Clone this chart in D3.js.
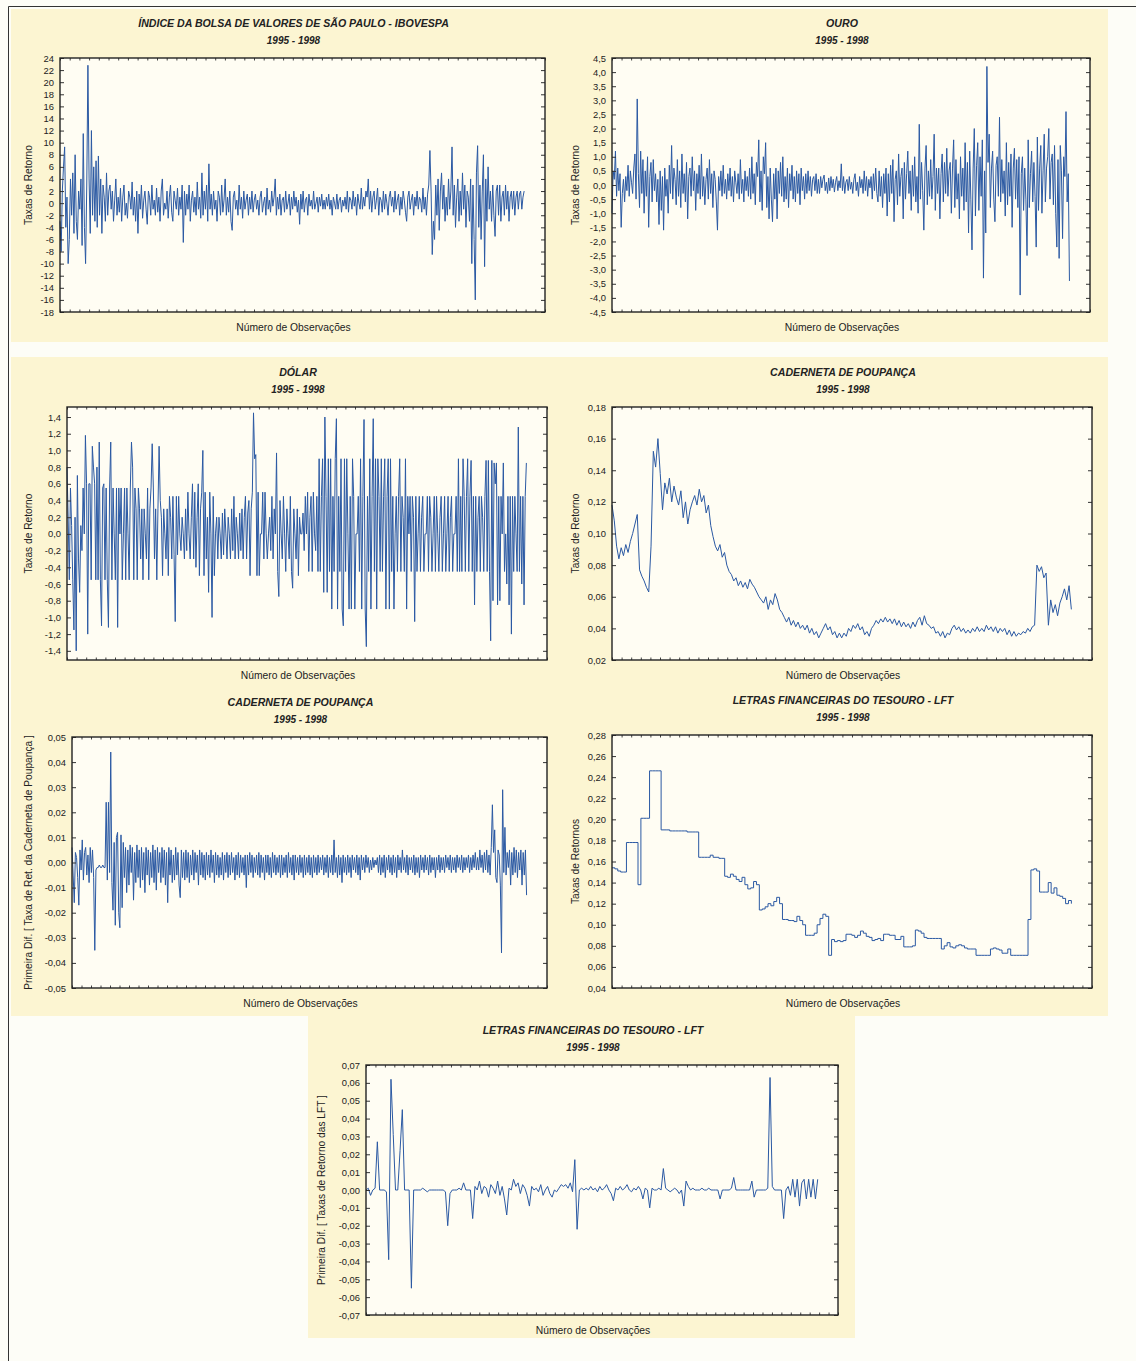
<!DOCTYPE html>
<html>
<head>
<meta charset="utf-8">
<script src="https://cdn.jsdelivr.net/npm/d3@7"></script>
<style>
  body { margin: 0; background: #fdfdf7; }
  svg text { font-family: "Liberation Sans", Arial, sans-serif; fill: #222; }
</style>
</head>
<body>
<div id="chart"></div>
<script>
// ---- values (one array per series) ----

// number of observations on the x axis (axis runs a bit past the data)
const NOBS = 957;
const XMAX = 1000;

// IBOVESPA returns (%)
const ibovespa = [
  -3, -8, 2, 6, 9.3, -4, 1, -10, -6, 4, -2, 5, -5, 8, -3, -6, 2, -1, 4, -7,
  11.5, -4, -10, 3, 22.8, 4, -5, 12, -2, 6, -3, 7, -4, 7.8, -2, 4, -5, 3, 1, -3,
  5, -2, 2,
  3, -1, 2, -3, 0.5, 4, -2, 1, -1.5, 2.5, -3, 1, 3, -2, 0, -2.5, 2, 1, -1, 3.5,
  -2, 1, -3, 2, -5, 1.5, -1, 3, -2.5, 0.5, 2, -1, -3.5, 2, 1, -2, 3, -1, 0.5, -2,
  2.5, -1.5, 1, -3, 2, 4, -2, 0, -1, 2, -2.5, 1, 3, -1.5, -3, 2, 0.5, -1, 2.5, -2,
  1, -1, 3, -6.5, 2, -2, 1.5, -1, 3, -3, 0.5, 2, -1.5, 1, -2, 3.5, -1, 1, -2.5, 5,
  -2, 2, -1, 3, -3, 6.5, -1, 1.5, -2, 2, -1, 0.5, -3, 2, 1, -2, 3, -1.5, 0.5, 4,
  -2, 1, -1.5, 2, -3, -4.5, 1, 2, -1, 0.5, -2, 3, -1, 1, -2.5, 2, -1, 0.5, 1.5, -2,
  1, -1, 2, -1.5, 0.5,
  1.5, -1, 0.5, -2, 1, 2, -1.5, 0, 1, -2, 2.5, -1, 0.5, -1.5, 2, -0.5, 1, 4, -2, 1,
  -1, 1.5, -2, 0.5, 1, -1.5, 2, -1, 0, 1.5, -2, 1, -1, 2, -0.5, 1, -1.5, 0.5, -3.5, 1.5,
  -1, 2, -1.5, 0.5, 1, -2, 1.5, -0.5, 0.5, -1, 2, -1, 0, 1, -1.5, 1, -0.5, 1.5, -1, 0.5,
  -1, 1, -0.5, 1.5, -1, 0.5, -2, 1, 0, -1, 1.5, -1, 0.5, 1, -1.5, 0.5, -0.5, 1, -1, 2,
  -1.5, 1, 0.5, -1, 2, -0.5, 1, -2, 1.5, 0, -1, 2.5, -1, 1, -0.5, 2, 1, 4, -1, 2,
  -1.5, 1, 2, -1, 0.5, 2.5, -2, 1, 0.5, -1.5, 2, -1, 1.5, 0, -2, 1, 2, -0.5, 1, -1.5,
  2, -1, 0.5, 1.5, -2, 1, -1, 2, 0.5, -1.5, -3, 1, 2, -1, 0.5, 1.5, -2, 1, -0.5, 2,
  -1, 1, 0.5, -1.5, 2.5, -1, 1, -2, 1.5, 3,
  8.7, 2, -8.5, -3, -6, 3, -2, 4, -4.5, 2, 5, -1, 3, -3, 1, -2, 4, -1, 2, 9.3,
  -2, 3, -4, 1, 4, -3, 2, -2, 5, -1, 3, -4, 2, 1, -3, 4, -10, 3, -6, -16,
  5, 9.5, -4, 3, -6, 2, 8, -10.5, 4, -3, 6, -1, 2, -3, 3, -2, -5.5, 2, 3, -2,
  3, -3, 1, 2, -2, 3, -1, 2, -3, 1, 2, -1, 2, -2, 1, 2, -1, 1.5, 2, -1, 1, 2
];

// gold returns (%)
const ouro = [
  -1.0, 0.5, 0.2, 1.2, -0.4, 0.6, -0.2, 0.4, -1.5, -0.3, 0.2, -0.6, 0.3, -0.2, 0.7, -0.4, 0.5, 0.1, -0.3, 0.6,
  1.1, -0.5, 3.05, 0.4, -0.8, 1.2, -0.3, 0.9, -1.0, 0.5, -0.4, 1.0, -1.5, 0.3, 0.8, -0.6, 0.9, -0.2, 0.4, -0.6,
  0.2, -1.4, 0.5, -0.9, 0.3, -1.6, 0.6, -0.4, 0.2, -1.0, 0.7, -0.3, 1.4, -0.5, 0.6, 0.2, -0.7, 0.9, -0.4, 0.5,
  -0.8, 1.1, -0.3, 0.4, -0.6, 0.8, -1.2, 0.3, 0.6, -0.4, 1.0, -0.2, 0.5, -0.9, 0.4, -0.3, 0.7, -0.5, 1.1, -0.4,
  0.3, -0.7, 0.2, 0.6, -0.5, 0.9, -0.3, 0.4, -0.8, 0.5, 0.2, -0.6, -1.6, 0.3, -0.2, 0.5, -0.4, 0.7, -0.3, 0.2,
  -0.5, 0.4, -0.2, 0.6, -0.4, 0.3, -0.6, 0.5, 0.1, -0.3, 0.4, -0.5, 0.9, -0.3, 0.2, -0.6, 0.5, -0.2, 0.3, -0.4,
  0.6, -0.5, 1.0, -0.3, 0.4, -0.7, 0.8, 0.3, 1.6, -0.6, 0.5, -0.9, 1.0, 0.4, 1.5, -0.8, 0.3, -1.2, 0.6, -0.5,
  -1.3, 0.4, -0.5, 0.6, -1.2, 0.5, -0.3, 0.8, -0.4, 1.0, -0.6, 0.3, -0.5, 0.6, -0.8, 0.4, -0.2, 0.7, -0.5, 0.3,
  -0.6, 0.5, -0.3, 0.4, -0.7, 0.6, -0.2, 0.3, -0.5, 0.4, -0.3, 0.5, -0.2, 0.3, -0.4, 0.2, 0.3, -0.2, 0.4, -0.3,
  0.2, -0.3, 0.3, -0.1, 0.2, 0.35, -0.2, 0.1, -0.3, 0.25, -0.2, 0.3, -0.1, 0.2, -0.25, 0.1, 0.3, -0.2, 0.15, -0.1,
  0.75, -0.2, 0.3, -0.3, 0.1, 0.2, -0.2, 0.3, -0.15, 0.1, -0.3, 0.2, 0.4, -0.2, 0.1, -0.4, 0.3, -0.1, 0.2, -0.3,
  0.5, -0.2, 0.3, -0.4, 0.2, -0.1, 0.3, -0.5, 0.4, -0.2, 0.6, -0.3, -0.6, 0.5, -0.4, 0.3, -0.8, 0.4, -0.3, 0.6,
  -1.1, 0.4, -0.6, 0.7, -0.3, 0.9, -1.3, 0.2, 0.5, -0.7, 1.1, -0.4, 0.3, 0.6, -1.2, 0.8, -0.5, 0.4, 1.2, -0.3,
  0.5, -0.9, 0.7, -0.4, 1.0, -0.6, 0.3, -1.0, 2.15, -0.5, 0.8, -0.2, -1.6, 0.6, 1.4, -0.7, 0.5, -0.4, 0.9, -0.5,
  0.3, 1.8, -0.9, 0.6, -0.3, 0.6, -1.2, 0.4, 1.1, -0.6, 0.8, -0.3, 1.3, -0.4, 0.5, 0.8, -1.0, 0.6, 1.6, -0.8,
  0.9, -0.5, 0.4, -1.2, 1.0, -0.4, 0.6, -0.9, 1.5, -0.6, 0.8, -1.7, 1.2, -0.5, -2.3, 0.6, 2.0, -1.1, 0.7, 1.5,
  -0.9, 1.0, -0.4, 1.6, -3.3, 0.5, -1.7, 4.2, 0.8, 1.8, -0.8, 0.6, 1.2, -0.5, -1.3, 0.7, 1.0, -0.4, 2.4, -0.6,
  0.9, -0.3, 0.5, -1.1, 1.5, -0.7, 0.8, -0.4, 1.1, -1.5, 0.6, 1.3, -0.5, 0.9, -0.8, 1.0, -3.9, 0.4, 1.0, -0.9,
  0.6, -0.5, -2.5, 1.6, -0.8, 0.4, 1.2, -0.6, 0.8, -0.4, -2.2, 1.7, -0.9, 0.6, 1.4, -1.0, 0.5, 1.8, -0.6, 0.6,
  1.0, 2.0, -0.5, 0.8, 1.1, -0.7, 1.4, -1.0, -2.2, 0.9, -2.6, 1.4, 0.5, -1.9, 1.0, 0.3, 2.6, -0.6, 0.4, -3.4
];

// dollar returns (%)
const dolar = [
  0.8, 0.2, -0.55, 0.55, 0.1, -0.55, -1.15, 0.2, -1.4, 0.7, -0.3, -0.7, 0.1, -0.2, 0.55, 0, 1.18, 0.6, -1.2, 0.6,
  0.6, -0.55, 1.05, 0.8, 0.6, -0.55, 0.8, -0.55, 1.1, -0.55, -1.1, 0.55, 0.6, -0.55, 0.55, -0.55, -1.12, 0.55, 1.1, -0.55,
  0.55, 0, -0.55, 0.55, -1.12, 0.55, 0, 0.55, -0.55, 0, 0.55, -0.55, 0.55, 0, -0.55, 0.55, 1.1, 0.8, -0.55, 0.55,
  0.3, -0.55, 0.55, 0.3, -0.3, 0.3, -0.55, 0.3, 0, -0.3, 0.55, -0.55, 0.3, 0.55, 1.08, 0.55, -0.3, 0.3, -0.55, 0.3,
  1.05, 0.4, 0.2, -0.5, 0.3, 0, -0.3, 0.3, -0.5, 0.45, 0.2, -0.3, 0.45, -0.25, -1.05, 0.45, -0.25, 0.45, 0, -0.2,
  0.2, 0, -0.3, 0.3, -0.2, 0.5, 0, -0.3, 0.2, 0.6, -0.3, 0.5, -0.4, 0.2, 0.6, -0.5, 0.3, 0.5, 1.0, -0.5,
  0.5, -0.3, 0.2, -0.7, 0.5, 0, -1.0, 0.45, -0.5, 0, 0.2, -0.3, 0.2, 0, -0.3, 0.25, -0.25, 0.3, 0, -0.3,
  0.2, 0, -0.3, 0.3, -0.2, 0.45, -0.3, 0.2, 0, -0.3, 0.25, -0.2, 0.3, -0.3, 0.2, 0.45, -0.3, 0.25, 0.4, -0.5,
  0.3, 0.5, 1.45, 0.9, 0.95, -0.5, 0.5, -0.5, 0, 0, 0.5, -0.3, 0.5, 0, -0.3, 0, 0.2, -0.2, 0.45, -0.3,
  0.3, 0, 0.97, -0.45, -0.75, 0.4, 0, -0.3, 0.45, 0, -0.45, 0.3, 0, -0.3, 0.45, -0.45, -0.65, 0.3, 0, -0.3,
  0.3, -0.5, 0.2, 0, 0, 0.25, -0.2, 0.45, 0, 0.5, -0.45, 0.2, 0.45, -0.45, 0.5, 0, -0.2, 0.45, -0.45, 0.9,
  -0.45, 0.45, 0.9, -0.7, 1.4, 0.45, -0.7, 0.9, -0.45, 0.9, -0.9, 0.45, -0.45, 0.9, 1.38, -0.9, 0.45, -0.45, 0.9, -0.9,
  -1.1, 0.9, -0.45, 0.9, 0, -0.9, 0.45, -0.9, 0.9, 0.45, -0.9, 0, 0, 0.45, -0.45, 0.9, -0.9, 0.45, 1.37, -0.9,
  -1.35, 0.45, -0.45, 0.9, -0.9, 0.45, 1.38, -0.45, 0.9, -0.9, 0.9, 0.45, -0.45, 0.9, -0.45, 0.45, 0.9, -0.9, 0.45, 0.9,
  -0.9, 0.9, -0.45, 0.45, -0.9, 0, 0.45, -0.45, 0.45, 0.9, -0.45, 0.45, 0.2, -0.45, 0.9, -0.9, 0.45, 0, 0.45, -0.45,
  0.45, 0.2, -1.05, 0.45, -0.45, 0, 0.45, -0.45, 0.2, 0.45, -0.45, 0, 0, 0.45, -0.45, 0.45, 0.2, -0.45, 0, 0.45,
  -0.45, 0.45, 0, -0.45, 0.2, 0.45, -0.45, 0, 0.45, -0.45, 0, 0.45, -0.45, 0.2, 0.45, -0.45, 0, 0, 0.45, -0.45,
  0.9, -0.45, 0.45, -0.45, 0.9, 0.45, -0.45, 0.45, 0.9, -0.45, 0.45, 0.88, -0.45, 0.45, -0.85, 0.45, -0.45, 0.2, 0.45, -0.45,
  0.45, 0.2, -0.45, 0.45, 0.88, -0.45, 0.88, -0.45, -1.28, 0.88, -0.8, 0.85, 0.6, 0.85, -0.85, 0.45, -0.8, 0.45, 0, 0.85,
  -0.45, 0, -0.6, 0.45, -0.85, 0.45, -1.2, 0.45, -0.45, 0.45, 0, -0.45, 1.28, -0.45, 0.45, -0.6, 0.45, -0.85, 0.45, 0.85
];

// savings account (caderneta de poupança) returns
const poupanca = [
  0.118, 0.108, 0.092, 0.084, 0.091, 0.086, 0.093, 0.088, 0.095, 0.1, 0.106, 0.112, 0.077, 0.073, 0.07, 0.066, 0.063, 0.092,
  0.152, 0.142, 0.16, 0.138, 0.115, 0.132, 0.125, 0.135, 0.12, 0.13, 0.123,
  0.118, 0.127, 0.11, 0.12, 0.106, 0.115, 0.12, 0.124, 0.118, 0.128, 0.12, 0.124, 0.113, 0.118, 0.105, 0.098, 0.092,
  0.089, 0.093, 0.085, 0.088, 0.08, 0.076, 0.074, 0.07, 0.072, 0.067, 0.07, 0.066, 0.069, 0.065, 0.071, 0.068, 0.066, 0.063, 0.06, 0.058, 0.056, 0.06, 0.052, 0.058, 0.055, 0.062, 0.058, 0.052, 0.05,
  0.047, 0.044, 0.047, 0.042, 0.045, 0.041, 0.044, 0.04, 0.042, 0.039, 0.042, 0.037, 0.04, 0.036, 0.038, 0.034, 0.037, 0.04, 0.043, 0.039, 0.041, 0.036, 0.038, 0.034, 0.037, 0.034, 0.037,
  0.035, 0.04, 0.038, 0.042, 0.04, 0.043, 0.039, 0.041, 0.036, 0.038, 0.035, 0.04, 0.042, 0.045, 0.043, 0.046, 0.044, 0.047, 0.044, 0.046, 0.043, 0.046, 0.042, 0.045, 0.041, 0.044, 0.041, 0.043, 0.04, 0.044,
  0.041, 0.045, 0.047, 0.042, 0.048, 0.043, 0.042, 0.04, 0.041, 0.037, 0.038, 0.035, 0.038, 0.034, 0.037, 0.036, 0.04, 0.042, 0.039, 0.041, 0.038, 0.04, 0.037, 0.039, 0.037, 0.04, 0.038, 0.041, 0.038, 0.04,
  0.038, 0.042, 0.039, 0.041, 0.038, 0.041, 0.037, 0.04, 0.038, 0.04, 0.036, 0.039, 0.035, 0.038, 0.035, 0.037, 0.036, 0.038, 0.037, 0.04, 0.038, 0.041, 0.042, 0.08,
  0.076, 0.079, 0.072, 0.075, 0.042, 0.058, 0.05, 0.055, 0.048, 0.056, 0.06, 0.065, 0.058, 0.067, 0.052
];

// first difference of the savings returns
const difPoupanca = [
  0.006, -0.005, -0.016, 0.004, 0.002, -0.006, -0.017, 0.005, -0.003, 0.009, -0.007, 0.004, 0.006, -0.005, 0.003, -0.008, 0.006, -0.004, 0.005, -0.006,
  -0.035, -0.003, -0.002, -0.002, -0.001, -0.002, -0.002, -0.001, -0.002, -0.002, 0.024, -0.007, 0.024, -0.004, 0.044, -0.008, -0.019, 0.008, -0.025, 0.01,
  0.012, -0.02, -0.026, 0.011, -0.018, 0.008, -0.006, 0.006, -0.012, 0.005, -0.009, 0.007, -0.004, 0.006, -0.015, 0.004, -0.008, 0.007, -0.006, 0.005,
  -0.01, 0.006, -0.007, 0.004, -0.012, 0.006, -0.005, 0.005, -0.009, 0.004, -0.006, 0.007, -0.008, 0.005, -0.011, 0.006, -0.004, 0.004, -0.008, 0.006,
  -0.006, 0.005, -0.009, 0.004, -0.016, 0.006, -0.005, 0.005, -0.008, 0.003, -0.007, 0.006, -0.005, 0.004, -0.009, -0.014, 0.005, -0.006, 0.004, -0.007,
  0.005, -0.006, 0.004, -0.008, 0.003, -0.005, 0.005, -0.007, 0.004, -0.004, 0.003, -0.009, 0.005, -0.005, 0.004, -0.006, 0.003, -0.007, 0.004, -0.005,
  0.003, -0.006, 0.005, -0.004, 0.003, -0.008, 0.004, -0.005, 0.003, -0.006, 0.002, -0.005, 0.004, -0.007, 0.003, -0.004, 0.004, -0.006, 0.003, -0.005,
  0.004, -0.004, 0.002, -0.007, 0.003, -0.005, 0.004, -0.006, 0.003, -0.004, 0.002, -0.005, 0.003, -0.01, 0.003, -0.005, 0.004, -0.004, 0.003, -0.006,
  0.002, -0.004, 0.003, -0.005, 0.004, -0.006, 0.003, -0.004, 0.002, -0.007, 0.003, -0.004, 0.003, -0.005, 0.002, -0.006, 0.004, -0.004, 0.003, -0.005,
  0.002, -0.004, 0.003, -0.006, 0.003, -0.005, 0.002, -0.004, 0.003, -0.006, 0.004, -0.004, 0.002, -0.005, 0.003, -0.007, 0.003, -0.004, 0.002, -0.005,
  0.003, -0.004, 0.002, -0.006, 0.003, -0.005, 0.002, -0.004, 0.003, -0.005, 0.002, -0.006, 0.003, -0.004, 0.002, -0.005, 0.003, -0.004, 0.002, -0.003,
  0.003, -0.005, 0.002, -0.004, 0.003, -0.006, 0.002, -0.004, 0.003, -0.005, 0.009, -0.004, 0.002, -0.006, 0.003, -0.005, 0.002, -0.008, 0.003, -0.004,
  0.002, -0.005, 0.003, -0.004, 0.002, -0.006, 0.003, -0.003, 0.002, -0.004, 0.003, -0.005, 0.002, -0.007, 0.003, -0.003, 0.002, -0.004, 0.003, -0.002,
  0.002, -0.004, 0.001, -0.003, 0.002, -0.002, 0.001, -0.001, 0.002, -0.004, 0.003, -0.005, 0.002, -0.004, 0.003, -0.006, 0.002, -0.003, 0.003, -0.004,
  0.002, -0.005, 0.003, -0.004, 0.002, -0.006, 0.003, -0.003, 0.002, -0.004, 0.005, -0.003, 0.002, -0.004, 0.003, -0.005, 0.002, -0.003, 0.002, -0.004,
  0.003, -0.005, 0.002, -0.004, 0.002, -0.006, 0.003, -0.003, 0.002, -0.004, 0.003, -0.003, 0.002, -0.005, 0.003, -0.004, 0.002, -0.003, 0.002, -0.006,
  0.002, -0.003, 0.003, -0.004, 0.002, -0.003, 0.002, -0.004, 0.003, -0.002, 0.002, -0.003, 0.003, -0.004, 0.002, -0.003, 0.002, -0.004, 0.003, -0.002,
  0.002, -0.003, 0.003, -0.004, 0.002, -0.003, 0.002, -0.002, 0.003, -0.004, 0.002, -0.003, 0.003, -0.002, 0.004, -0.003, 0.002, -0.003, 0.005, -0.002,
  0.003, -0.004, 0.004, -0.003, 0.005, -0.004, 0.003, -0.005, 0.006, 0.023, 0.004, 0.013, -0.006, -0.008, 0.005, 0.003, -0.009, -0.036, 0.029, -0.004,
  0.014, -0.005, 0.004, -0.002, 0.005, -0.009, 0.004, -0.005, 0.006, -0.004, 0.005, -0.006, 0.004, -0.003, 0.005, -0.009, 0.004, -0.005, 0.005, -0.013
];

// treasury bills (LFT) returns
const lft = [
  0.154, 0.153, 0.151, 0.150, 0.150, 0.178,
  0.178, 0.178, 0.178,
  0.138,
  0.201, 0.201, 0.201,
  0.246, 0.246, 0.246, 0.246,
  0.19, 0.19, 0.19, 0.189, 0.189, 0.189, 0.189, 0.189, 0.189, 0.188, 0.188, 0.188, 0.188,
  0.164, 0.164, 0.164, 0.164, 0.166, 0.164, 0.164, 0.163, 0.163,
  0.146, 0.145, 0.148, 0.146, 0.143, 0.141, 0.145, 0.138, 0.134, 0.135, 0.141, 0.138,
  0.114, 0.115, 0.117, 0.12, 0.118, 0.122, 0.126, 0.12,
  0.105, 0.105, 0.104, 0.104, 0.103, 0.108, 0.104, 0.1,
  0.09, 0.09, 0.09, 0.092, 0.1, 0.106, 0.11, 0.108, 0.071,
  0.086, 0.084, 0.085, 0.084, 0.085, 0.091, 0.091, 0.09, 0.088, 0.09, 0.094, 0.092, 0.089, 0.088, 0.085, 0.086, 0.087, 0.085, 0.091, 0.091, 0.09, 0.09, 0.086, 0.086, 0.089,
  0.079, 0.079, 0.079, 0.08,
  0.095, 0.094, 0.092, 0.088,
  0.087, 0.087, 0.087, 0.087, 0.087, 0.077, 0.08, 0.083, 0.079, 0.078, 0.08, 0.081, 0.08, 0.078, 0.077, 0.077, 0.077,
  0.071, 0.071, 0.071, 0.071, 0.071,
  0.077, 0.078, 0.077, 0.076, 0.073, 0.073, 0.077,
  0.071, 0.071, 0.071, 0.071, 0.071, 0.071,
  0.105, 0.152, 0.153, 0.151,
  0.131, 0.131, 0.131, 0.14, 0.13, 0.135, 0.128, 0.127, 0.125, 0.12, 0.123, 0.12
];

// first difference of the LFT returns
const difLft = [
  0, 0.001, -0.003, 0, 0.001, 0.027, 0, 0, 0, -0.001, -0.039, 0.062, 0.031, 0, 0, 0.022, 0.045, 0, 0, 0,
  -0.055,
  0, 0, 0, 0, 0.001, 0, -0.001, 0, 0, 0, 0, 0, 0, 0, -0.001,
  -0.02,
  -0.002, 0, 0, 0, 0.001, 0, 0.004, 0, 0, 0,
  -0.016,
  0.002, 0, 0.005, -0.002, 0.002, 0.001, -0.004, 0.003, 0.001, -0.002, 0.005, -0.003, 0.002, -0.005,
  -0.014,
  0.001, 0, 0.006, 0.002, 0.004, -0.002, 0.003, 0.001, -0.003, -0.009, 0.002, 0, 0.001, -0.001, 0.003, -0.003, 0, 0.002, -0.002, -0.004, 0, -0.001, 0.001, 0.003, 0.002, 0.003, 0.001, 0.004, -0.001,
  0.017, -0.022,
  0, 0.001, 0, 0.001, 0, 0.002, 0, 0.001, -0.001, 0.002, 0, 0.001, 0.003, 0, -0.002, -0.006, 0.001, 0, 0.002, 0, 0.001, 0.003, 0, -0.001, 0.001, 0, 0.002, 0, -0.005, 0.001, 0,
  -0.01,
  0.001, 0, 0, 0.001, 0,
  0.012,
  0.001, 0, -0.001, 0, 0.001, 0, -0.002, 0, -0.009, 0.005, 0.002, 0, 0.001, 0, 0, 0, 0.001, 0, 0, 0.001, 0, 0, 0, 0,
  -0.005,
  0, 0, 0, 0, 0.001, 0.007, 0, 0, 0, 0, 0, 0, 0, 0.005, -0.004, 0, 0, 0, 0, 0, 0.001, 0.063,
  0.002, 0, 0, 0, 0, -0.016, 0, 0.002, -0.003, 0.006, -0.004, 0.006, -0.009, 0.004, 0.006, -0.005, 0.006, -0.004, 0.006, -0.005, 0.006
];

// y tick values for each panel
const ticksIbov = d3.range(-18, 25, 2);
const ticksOuro = d3.range(-9, 10).map(d => d / 2);
const ticksDolar = d3.range(-7, 8).map(d => d / 5);
const ticksPoup = d3.range(1, 10).map(d => d / 50);
const ticksDifPoup = d3.range(-5, 6).map(d => d / 100);
const ticksLft = d3.range(2, 15).map(d => d / 50);
const ticksDifLft = d3.range(-7, 8).map(d => d / 100);

const PERIOD = "1995 - 1998";
const XLABEL = "Número de Observações";

// ---- drawing ----
const W = 1136, H = 1361;
const lineColor = "#2b59a3";

const br = d3.formatLocale({decimal: ",", thousands: ".", grouping: [3], currency: ["R$", ""], minus: "-"});

const svg = d3.select("#chart").append("svg")
    .attr("width", W)
    .attr("height", H);

svg.append("rect")
    .attr("width", W).attr("height", H)
    .attr("fill", "#fdfdf7");

// yellow backgrounds behind each row of graphs
svg.append("rect").attr("x", 11).attr("y", 9).attr("width", 1097).attr("height", 333).attr("fill", "#fcf5d2");
svg.append("rect").attr("x", 11).attr("y", 357).attr("width", 1097).attr("height", 659).attr("fill", "#fcf5d2");
svg.append("rect").attr("x", 308).attr("y", 1016).attr("width", 547).attr("height", 322).attr("fill", "#fcf5d2");

// page frame (left and top edges only)
svg.append("path")
    .attr("d", "M8.5," + H + "V6.5H" + W)
    .attr("fill", "none")
    .attr("stroke", "#333")
    .attr("stroke-width", 1);

const panels = [
  {title: "ÍNDICE DA BOLSA DE VALORES DE SÃO PAULO - IBOVESPA", ylab: "Taxas de Retorno",
   left: 60, top: 58, width: 485, height: 254, labX: 28,
   domain: [-18, 24], ticks: ticksIbov, fmt: "d", data: ibovespa},
  {title: "OURO", ylab: "Taxas de Retorno",
   left: 612, top: 58, width: 478, height: 254, labX: 575,
   domain: [-4.5, 4.5], ticks: ticksOuro, fmt: ".1f", data: ouro},
  {title: "DÓLAR", ylab: "Taxas de Retorno",
   left: 67, top: 407, width: 480, height: 253, labX: 28,
   domain: [-1.51, 1.52], ticks: ticksDolar, fmt: ".1f", data: dolar},
  {title: "CADERNETA DE POUPANÇA", ylab: "Taxas de Retorno",
   left: 612, top: 407, width: 480, height: 253, labX: 575,
   domain: [0.02, 0.18], ticks: ticksPoup, fmt: ".2f", data: poupanca},
  {title: "CADERNETA DE POUPANÇA", ylab: "Primeira Dif. [ Taxa de Ret. da Caderneta de Poupança ]",
   left: 72, top: 737, width: 475, height: 251, labX: 28,
   domain: [-0.05, 0.05], ticks: ticksDifPoup, fmt: ".2f", data: difPoupanca},
  {title: "LETRAS FINANCEIRAS DO TESOURO - LFT", ylab: "Taxas de Retornos",
   left: 612, top: 735, width: 480, height: 253, labX: 575,
   domain: [0.04, 0.28], ticks: ticksLft, fmt: ".2f", data: lft, step: true},
  {title: "LETRAS FINANCEIRAS DO TESOURO - LFT", ylab: "Primeira Dif. [ Taxas de Retorno das LFT ]",
   left: 366, top: 1065, width: 472, height: 250, labX: 321,
   domain: [-0.07, 0.07], ticks: ticksDifLft, fmt: ".2f", data: difLft}
];

panels.forEach(drawPanel);

function drawPanel(p) {
    let g = svg.append("g")
        .attr("transform", "translate(" + p.left + "," + p.top + ")");

    let x = d3.scaleLinear().domain([0, XMAX]).range([0, p.width]);
    let y = d3.scaleLinear().domain(p.domain).range([p.height, 0]);
    let n = p.data.length;
    let fmt = br.format(p.fmt);

    // plot area
    g.append("rect")
        .attr("width", p.width).attr("height", p.height)
        .attr("fill", "#fffdf3");

    // series
    let line = d3.line()
        .x((d, i) => x(i * NOBS / (n - 1)))
        .y(d => y(d))
        .curve(p.step ? d3.curveStepAfter : d3.curveLinear);

    g.append("path")
        .datum(p.data)
        .attr("d", line)
        .attr("fill", "none")
        .attr("stroke", lineColor)
        .attr("stroke-width", 1)
        .attr("stroke-linejoin", "round");

    // left axis with labels, ticks pointing inward
    g.append("g")
        .call(d3.axisLeft(y).tickValues(p.ticks).tickFormat(fmt).tickSize(-4).tickPadding(6))
        .call(a => a.select(".domain").remove())
        .call(a => a.selectAll("line").attr("stroke", "#333"))
        .call(a => a.selectAll("text").attr("font-size", 9.4).attr("fill", "#222")
            .attr("font-family", "'Liberation Sans', Arial, sans-serif"));

    // right side ticks
    g.append("g")
        .attr("transform", "translate(" + p.width + ",0)")
        .call(d3.axisRight(y).tickValues(p.ticks).tickFormat("").tickSize(-4))
        .call(a => a.select(".domain").remove())
        .call(a => a.selectAll("line").attr("stroke", "#333"));

    // small ticks along top and bottom
    let xt = d3.range(0, XMAX + 1, 20);
    g.append("g")
        .attr("transform", "translate(0," + p.height + ")")
        .call(d3.axisBottom(x).tickValues(xt).tickFormat("").tickSize(-2.5))
        .call(a => a.select(".domain").remove())
        .call(a => a.selectAll("line").attr("stroke", "#444"));
    g.append("g")
        .call(d3.axisTop(x).tickValues(xt).tickFormat("").tickSize(-2.5))
        .call(a => a.select(".domain").remove())
        .call(a => a.selectAll("line").attr("stroke", "#444"));

    // frame
    g.append("rect")
        .attr("width", p.width).attr("height", p.height)
        .attr("fill", "none")
        .attr("stroke", "#222")
        .attr("stroke-width", 1.4);

    // titles
    let cx = p.width / 2 - 9;
    g.append("text")
        .attr("x", cx).attr("y", -31)
        .attr("text-anchor", "middle")
        .attr("font-size", 10.6).attr("font-weight", "bold").attr("font-style", "italic")
        .text(p.title);
    g.append("text")
        .attr("x", cx).attr("y", -14)
        .attr("text-anchor", "middle")
        .attr("font-size", 10).attr("font-weight", "bold").attr("font-style", "italic")
        .text(PERIOD);

    // x axis title
    g.append("text")
        .attr("x", cx).attr("y", p.height + 19)
        .attr("text-anchor", "middle")
        .attr("font-size", 10.3)
        .text(XLABEL);

    // y axis title
    g.append("text")
        .attr("transform", "translate(" + (p.labX - p.left) + "," + (p.height / 2) + ") rotate(-90)")
        .attr("text-anchor", "middle")
        .attr("dy", "0.35em")
        .attr("font-size", 10.2)
        .text(p.ylab);
}
</script>
</body>
</html>
